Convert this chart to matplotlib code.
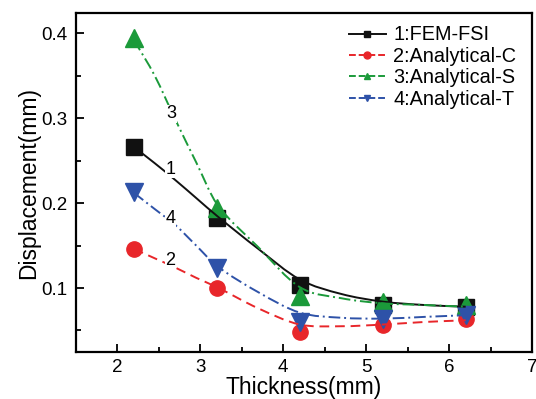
import numpy as np
import matplotlib
matplotlib.use("Agg")
import matplotlib.pyplot as plt
from matplotlib.lines import Line2D
from matplotlib.path import Path
from matplotlib.patches import PathPatch

plt.rcParams['font.family'] = ['Liberation Sans', 'DejaVu Sans']

# measured points (markers)
thickness = [2.2, 3.2, 4.2, 5.2, 6.2]
fem_fsi = [0.266, 0.182, 0.103, 0.080, 0.078]
analytical_c = [0.146, 0.100, 0.048, 0.056, 0.063]
analytical_s = [0.394, 0.194, 0.091, 0.083, 0.080]
analytical_t = [0.213, 0.124, 0.060, 0.064, 0.068]

# smoothed curves
fit_x = [2.2, 2.45, 2.7, 2.95, 3.2, 3.7, 4.2, 4.7, 5.2, 5.7, 6.2]
fit_fem_fsi = [0.266, 0.247, 0.227, 0.206, 0.185, 0.146, 0.110, 0.093, 0.084, 0.080, 0.078]
fit_analytical_c = [0.146, 0.135, 0.124, 0.112, 0.101, 0.076, 0.057, 0.055, 0.057, 0.060, 0.062]
fit_analytical_s = [0.392, 0.350, 0.298, 0.248, 0.199, 0.148, 0.101, 0.088, 0.082, 0.080, 0.078]
fit_analytical_t = [0.212, 0.193, 0.174, 0.150, 0.126, 0.095, 0.071, 0.065, 0.064, 0.066, 0.068]

labels = ["1:FEM-FSI", "2:Analytical-C", "3:Analytical-S", "4:Analytical-T"]
curve_tags = ["1", "2", "3", "4"]
tag_pos = [(2.64, 0.240), (2.64, 0.132), (2.65, 0.305), (2.64, 0.182)]


def smooth_path(xs, ys):
    x = np.asarray(xs, float)
    y = np.asarray(ys, float)
    n = len(x)
    m = np.empty(n)
    m[0] = (y[1] - y[0]) / (x[1] - x[0])
    m[-1] = (y[-1] - y[-2]) / (x[-1] - x[-2])
    for i in range(1, n - 1):
        m[i] = (y[i + 1] - y[i - 1]) / (x[i + 1] - x[i - 1])
    verts = [(x[0], y[0])]
    codes = [Path.MOVETO]
    for i in range(n - 1):
        h = x[i + 1] - x[i]
        verts += [(x[i] + h / 3, y[i] + m[i] * h / 3),
                  (x[i + 1] - h / 3, y[i + 1] - m[i + 1] * h / 3),
                  (x[i + 1], y[i + 1])]
        codes += [Path.CURVE4] * 3
    return Path(verts, codes)


fig = plt.figure(figsize=(5.36, 3.99), dpi=100)
L, R, T, B = 76, 532, 13.3, 351.7
ax = fig.add_axes([L / 536, 1 - B / 399, (R - L) / 536, (B - T) / 399])

series = [fem_fsi, analytical_c, analytical_s, analytical_t]
fits = [fit_fem_fsi, fit_analytical_c, fit_analytical_s, fit_analytical_t]
colors = ['#111111', '#E8262A', '#1B9A3A', '#2E52A8']
markers = ['s', 'o', '^', 'v']
styles = ['-', (0, (5, 3)), (0, (6, 2, 1, 2)), (0, (6, 2, 1, 2))]
msizes = [11, 11, 13, 13]

for ys, c, mk, ms in zip(series, colors, markers, msizes):
    ax.plot(thickness, ys, linestyle='none', marker=mk, color=c, markersize=ms, zorder=3)
for fy, c, ls in zip(fits, colors, styles):
    ax.add_patch(PathPatch(smooth_path(fit_x, fy), fill=False, edgecolor=c,
                           linestyle=ls, linewidth=1.4, zorder=4))

for tag, (tx, ty) in zip(curve_tags, tag_pos):
    ax.text(tx, ty, tag, fontsize=13, ha='center', va='center', zorder=5,
            bbox=dict(facecolor='white', edgecolor='none', pad=0.5))

ax.set_xlim(1.5, 7)
ax.set_ylim(0.025, 0.4236)
ax.set_xticks([2, 3, 4, 5, 6, 7])
ax.set_xticks(np.arange(2.5, 7, 1.0), minor=True)
ax.set_yticks([0.1, 0.2, 0.3, 0.4])
ax.set_yticks([0.05, 0.15, 0.25, 0.35], minor=True)
ax.tick_params(which='both', direction='in', labelsize=13.5, width=1.3, top=False, right=False)
ax.tick_params(which='major', length=6)
ax.tick_params(which='minor', length=3.5)
ax.tick_params(axis='x', pad=5)
ax.tick_params(axis='y', pad=6)
for sp in ax.spines.values():
    sp.set_linewidth(1.6)

ax.set_xlabel('Thickness(mm)', fontsize=16.5, labelpad=0.5)
ax.set_ylabel('Displacement(mm)', fontsize=16.5, labelpad=1)

handles = [Line2D([], [], color=c, linestyle=('-' if i == 0 else (0, (3.5, 1.5))), marker=mk,
                  markersize=5, linewidth=1.4)
           for i, (c, mk) in enumerate(zip(colors, markers))]
fig.legend(handles, labels, loc='upper left', frameon=False, fontsize=14.3,
           handlelength=1.9, handletextpad=0.35, labelspacing=0.12, borderpad=0,
           borderaxespad=0, bbox_to_anchor=(348.5 / 536, 1 - 25.5 / 399))

fig.savefig('out.png', dpi=100)
